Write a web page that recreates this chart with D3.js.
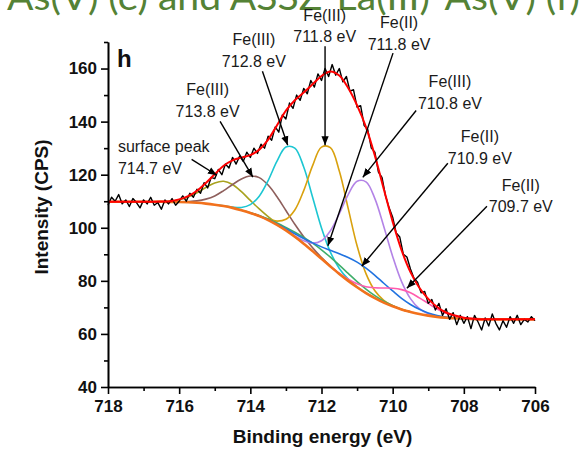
<!DOCTYPE html>
<html>
<head>
<meta charset="utf-8">
<script src="https://cdn.jsdelivr.net/npm/d3@7"></script>
<style>
body { margin: 0; background: #fff; }
svg { display: block; font-family: Arial, "Liberation Sans", sans-serif; }
</style>
</head>
<body>
<div id="chart"></div>
<script>
// fitted curves are read on a 0.25 eV grid, starting at 718 eV and going down
const gridStep = 0.25;
const background = [
    109.8, 109.8, 109.8, 109.8, 109.8, 109.8, 109.8, 109.7, 109.7, 109.6,
    109.4, 109.1, 108.7, 108.2, 107.5, 106.6, 105.6, 104.4, 102.9, 101.1,
    99.0, 96.6, 94.0, 91.2, 88.3, 85.4, 82.6, 80.0, 77.6, 75.4,
    73.5, 71.8, 70.4, 69.2, 68.3, 67.5, 66.9, 66.4, 66.1, 65.9,
    65.7, 65.6, 65.5, 65.5, 65.5, 65.5, 65.5, 65.5, 65.5
];

// component heights above the background, each one starts at peakStart[i]
const surfacePeak = [0, 0.1, 0.33, 0.89, 2.0, 3.8, 6.1, 8.2, 9.3, 8.8, 7.0, 4.7, 2.7, 1.3, 0.5, 0.2, 0.05, 0];
const fe3_7138 = [0, 0.1, 0.3, 0.75, 1.7, 3.3, 5.8, 8.8, 11.8, 13.9, 14.5, 13.2, 10.6, 7.5, 4.7, 2.6, 1.25, 0.5, 0.2, 0];
const fe3_7128 = [0, 0.06, 0.28, 1.04, 3.1, 7.5, 14.9, 24.0, 31.4, 33.4, 28.9, 20.3, 11.6, 5.4, 2.05, 0.63, 0.16, 0.03, 0];
const fe3_7118 = [0, 0.08, 0.38, 1.4, 4.2, 10.1, 20.0, 32.2, 42.1, 44.8, 38.8, 27.3, 15.6, 7.3, 2.75, 0.85, 0.21, 0.04, 0];
const fe2_7118 = [0, 0.1, 0.2, 0.4, 0.7, 1.1, 1.7, 2.4, 3.0, 3.4, 3.5, 3.3, 2.8, 2.1, 1.5, 0.9, 0.5, 0.3, 0.1, 0];
const fe3_7108 = [0, 0.09, 0.35, 1.1, 3.0, 6.8, 13.5, 22.7, 32.5, 39.9, 41.9, 37.5, 28.7, 18.8, 10.5, 5.0, 2.0, 0.71, 0.21, 0];
const fe2_7109 = [0, 0.07, 0.15, 0.31, 0.62, 1.15, 1.96, 3.1, 4.5, 6.1, 7.6, 8.8, 9.45, 9.4, 8.6, 7.3, 5.8, 4.2, 2.8, 1.8, 1.0, 0.55, 0.27, 0.12, 0];
const fe2_7097 = [0, 0.3, 0.6, 1.3, 2.4, 3.9, 5.5, 6.8, 7.5, 7.2, 6.1, 4.6, 3.0, 1.7, 0.9, 0.4, 0.15, 0];

const peakSeries = [surfacePeak, fe3_7138, fe3_7128, fe3_7118, fe2_7118, fe3_7108, fe2_7109, fe2_7097];
const peakStart = [716.75, 716.25, 715, 714, 714.25, 713.25, 714, 711.75];
const peakColors = ['#a8a21e', '#8e5f5c', '#1cc6d2', '#d9a10e', '#3fae6a', '#b383e6', '#2173e0', '#ff5cae'];

// measured spectrum, 0.1 eV apart from 718 down to 706
const rawStep = 0.1;
const rawCounts = [
    108.5, 111.5, 110, 112.5, 109, 110.5, 108, 111, 109.5, 107.5,
    110.5, 109, 111.5, 108.5, 109.5, 107, 110.5, 109, 111, 108.5,
    110, 112, 110, 113, 111.5, 114.5, 113, 117, 115, 119,
    118.5, 122, 120, 124, 122.5, 126.5, 124, 127, 125, 128.5,
    126.5, 130, 128, 131.5, 130, 134.5, 133, 138, 136, 142.5,
    141, 147, 145, 150, 148, 152.5, 150.5, 155.5, 153, 158,
    155.5, 160, 157, 161.5, 157.5, 160, 155, 157, 151.5, 152,
    145.5, 146, 138.5, 137, 130, 128.5, 121, 119, 112, 107.5,
    104, 98, 96.5, 90, 89, 84.5, 81, 79.5, 75.5, 76,
    71.5, 73, 69, 71.5, 67, 69.5, 65.5, 68, 63.5, 67,
    64, 66.5, 62, 67, 64.5, 61.5, 66, 63, 67.5, 64,
    61.5, 65, 62.5, 66.5, 64, 67, 63.5, 65.5, 64.5, 66.5,
    65
];

// annotations: two text lines, anchor (energy, intensity of first baseline), arrow tail and tip
const labelTop = ['surface peak', 'Fe(III)', 'Fe(III)', 'Fe(III)', 'Fe(II)', 'Fe(III)', 'Fe(II)', 'Fe(II)'];
const labelBottom = ['714.7 eV', '713.8 eV', '712.8 eV', '711.8 eV', '711.8 eV', '710.8 eV', '710.9 eV', '709.7 eV'];
const labelE = [717.72, 715.2, 713.9, 711.91, 709.82, 708.39, 707.55, 706.4];
const labelI = [128.5, 150, 168.8, 178, 175.2, 153, 132.3, 113.9];
const arrowFrom = [[715.65, 125.8], [714.85, 140.1], [713.66, 159], [711.9, 168.4], [709.99, 165.8], [709.34, 144.2], [708.45, 124.3], [707.35, 108.1]];
const arrowTo = [[714.94, 119.8], [713.93, 119.1], [712.95, 131.1], [711.9, 131.1], [711.82, 93.2], [710.84, 119], [710.87, 85.5], [709.6, 77.2]];

const xMajor = [718, 716, 714, 712, 710, 708, 706];
const xMinor = [717, 715, 713, 711, 709, 707];
const yMajor = [40, 60, 80, 100, 120, 140, 160];
const yMinor = [50, 70, 90, 110, 130, 150, 170];

let margin = { top: 42, right: 50, bottom: 66, left: 108 };
let width = 585 - margin.left - margin.right;
let height = 453 - margin.top - margin.bottom;

let root = d3.select('#chart')
    .append('svg')
    .attr('width', 585)
    .attr('height', 453);

// cut-off heading above the panel
root.append('text')
    .text('As(V) (e) and ASSZ-La(III)-As(V) (f)')
    .attr('x', 7)
    .attr('y', 10)
    .attr('textLength', 573)
    .attr('lengthAdjust', 'spacingAndGlyphs')
    .style('font-family', 'Lato, "Open Sans", sans-serif')
    .style('font-size', '36px')
    .style('fill', '#548235');

let svg = root.append('g')
    .attr('transform', `translate(${margin.left}, ${margin.top})`);

let x = d3.scaleLinear().domain([718, 706]).range([0, width]);
let y = d3.scaleLinear().domain([40, 170]).range([height, 0]);

let line = d3.line()
    .x(d => x(d[0]))
    .y(d => y(d[1]))
    .curve(d3.curveCatmullRom.alpha(0.5));

let gridIndex = e => Math.round((718 - e) / gridStep);

// components sit on the background
peakSeries.forEach((heights, k) => {
    let i0 = gridIndex(peakStart[k]);
    let pts = heights.map((h, j) => [peakStart[k] - j * gridStep, background[i0 + j] + h]);
    svg.append('path')
        .attr('d', line(pts))
        .style('fill', 'none')
        .style('stroke', peakColors[k])
        .style('stroke-width', 1.6);
});

svg.append('path')
    .attr('d', line(background.map((v, i) => [718 - i * gridStep, v])))
    .style('fill', 'none')
    .style('stroke', '#f2711c')
    .style('stroke-width', 2.6);

// raw spectrum
svg.append('path')
    .attr('d', d3.line().x(d => x(d[0])).y(d => y(d[1]))(rawCounts.map((v, i) => [718 - i * rawStep, v])))
    .style('fill', 'none')
    .style('stroke', '#000')
    .style('stroke-width', 1.4)
    .style('stroke-linejoin', 'round');

// envelope = background + all components
let envelope = background.map((v, i) => {
    let e = 718 - i * gridStep;
    let sum = v;
    peakSeries.forEach((heights, k) => {
        let j = gridIndex(peakStart[k]);
        let idx = i - j;
        if (idx >= 0 && idx < heights.length) sum += heights[idx];
    });
    return [e, sum];
});
svg.append('path')
    .attr('d', line(envelope))
    .style('fill', 'none')
    .style('stroke', '#ff0000')
    .style('stroke-width', 2);

// axes
svg.append('g')
    .attr('transform', `translate(0,${height})`)
    .call(d3.axisBottom(x).tickValues(xMinor).tickSize(4).tickSizeOuter(0).tickFormat(''));
let xAxis = svg.append('g')
    .attr('transform', `translate(0,${height})`)
    .call(d3.axisBottom(x).tickValues(xMajor).tickSize(7).tickSizeOuter(0).tickPadding(6).tickFormat(d3.format('d')));

svg.append('g')
    .call(d3.axisLeft(y).tickValues(yMinor).tickSize(4).tickSizeOuter(0).tickFormat(''));
let yAxis = svg.append('g')
    .call(d3.axisLeft(y).tickValues(yMajor).tickSize(7).tickSizeOuter(0).tickPadding(4));

svg.selectAll('.domain, .tick line')
    .style('stroke', '#000')
    .style('stroke-width', 1.6);
svg.selectAll('.tick text')
    .style('font-family', 'Arial, "Liberation Sans", sans-serif')
    .style('font-size', '17px')
    .style('font-weight', 'bold')
    .style('fill', '#111');

svg.append('text')
    .text('Binding energy (eV)')
    .attr('x', width / 2 + 1)
    .attr('y', height + 56)
    .attr('text-anchor', 'middle')
    .style('font-size', '19px')
    .style('font-weight', 'bold')
    .style('fill', '#111');

svg.append('text')
    .text('Intensity (CPS)')
    .attr('transform', 'rotate(-90)')
    .attr('x', -(207 - margin.top))
    .attr('y', 47.5 - margin.left)
    .attr('text-anchor', 'middle')
    .style('font-size', '19px')
    .style('font-weight', 'bold')
    .style('fill', '#111');

svg.append('text')
    .text('h')
    .attr('x', 9)
    .attr('y', 25)
    .style('font-size', '24px')
    .style('font-weight', 'bold')
    .style('fill', '#111');

// arrows and peak labels
root.append('defs').append('marker')
    .attr('id', 'head')
    .attr('viewBox', '0 0 10 10')
    .attr('refX', 10)
    .attr('refY', 5)
    .attr('markerUnits', 'userSpaceOnUse')
    .attr('markerWidth', 9)
    .attr('markerHeight', 9)
    .attr('orient', 'auto')
    .append('path')
    .attr('d', 'M0,1 L10,5 L0,9 Z')
    .style('fill', '#000');

arrowFrom.forEach((a, k) => {
    svg.append('line')
        .attr('x1', x(a[0]))
        .attr('y1', y(a[1]))
        .attr('x2', x(arrowTo[k][0]))
        .attr('y2', y(arrowTo[k][1]))
        .attr('marker-end', 'url(#head)')
        .style('stroke', '#000')
        .style('stroke-width', 1.4);
});

labelTop.forEach((t, k) => {
    let g = svg.append('text')
        .attr('text-anchor', k === 0 ? 'start' : 'middle')
        .style('font-size', '16px')
        .style('fill', '#1a1a1a');
    g.append('tspan')
        .attr('x', x(labelE[k]))
        .attr('y', y(labelI[k]))
        .text(t);
    g.append('tspan')
        .attr('x', x(labelE[k]))
        .attr('y', y(labelI[k]) + 21.5)
        .text(labelBottom[k]);
});
</script>
</body>
</html>
